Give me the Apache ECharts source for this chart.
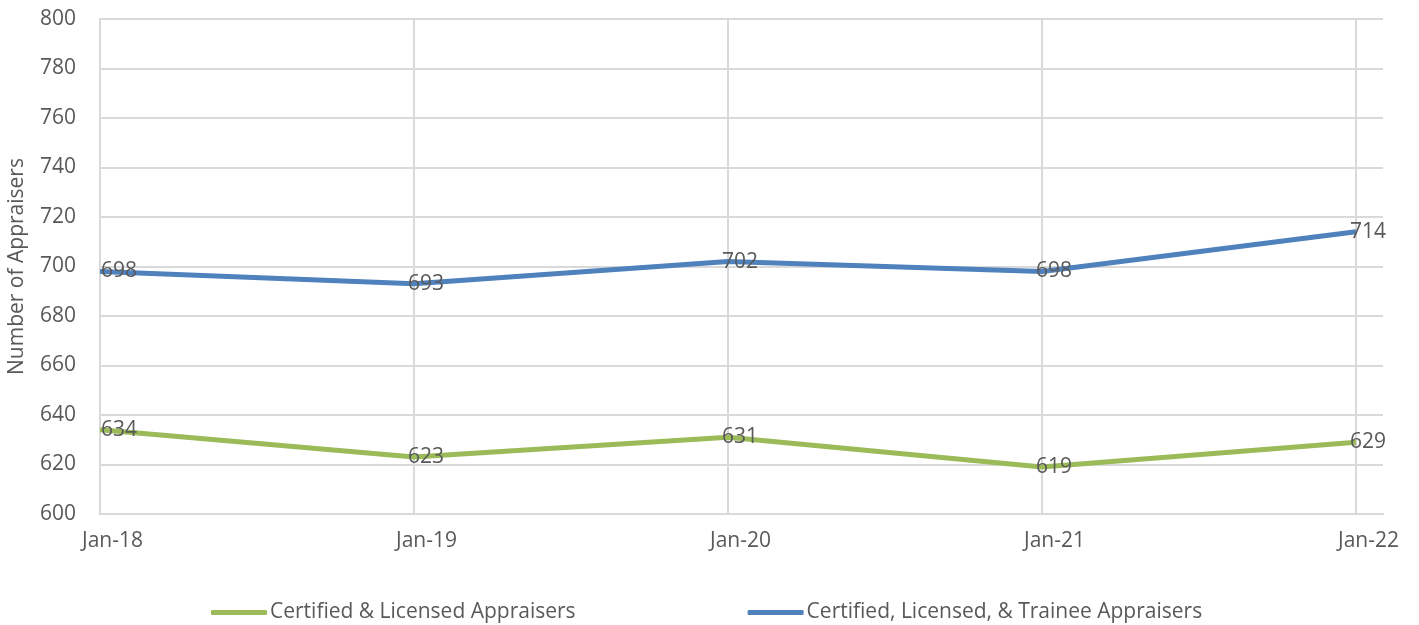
<!DOCTYPE html>
<html>
<head>
<meta charset="utf-8">
<script src="https://cdn.jsdelivr.net/npm/echarts@6/dist/echarts.min.js"></script>
<style>
  html, body { margin: 0; padding: 0; background: #fff; }
  #chart { width: 1419px; height: 625px; }
</style>
</head>
<body>
<div id="chart"></div>
<script>
// Appraiser counts by January of each year
const categories = ['Jan-18', 'Jan-19', 'Jan-20', 'Jan-21', 'Jan-22'];
const certifiedLicensed = [634, 623, 631, 619, 629];
const withTrainees = [698, 693, 702, 698, 714];
const seriesNames = ['Certified & Licensed Appraisers', 'Certified, Licensed, & Trainee Appraisers'];
const yTicks = { min: 600, max: 800, step: 20 };

const FONT = 'Open Sans';
const TEXT = '#595959';
const GRIDLINE = '#d9d9d9';
const FS = 21;

// points are placed on a numeric x scale (index of the category)
function toPoints(values) {
  return values.map((v, i) => ({
    value: [i, v],
    label: { offset: [i === 0 ? 19 : 12, 0] }
  }));
}

const lastX = categories.length - 1;
const xMax = lastX + 27 / 314;

function lineSeries(name, values, color) {
  return {
    name: name,
    type: 'line',
    data: toPoints(values),
    symbol: 'circle',
    symbolSize: 2,
    showSymbol: true,
    lineStyle: { color: color, width: 5 },
    itemStyle: { color: color, opacity: 0 },
    label: {
      show: true,
      position: 'inside',
      fontFamily: FONT,
      fontSize: FS,
      color: TEXT,
      opacity: 1,
      formatter: p => p.value[1]
    },
    emphasis: { disabled: true },
    z: 3
  };
}

const chart = echarts.init(document.getElementById('chart'), null, { renderer: 'canvas' });

chart.setOption({
  animation: false,
  textStyle: { fontFamily: FONT, color: TEXT },
  grid: { left: 100, right: 36, top: 19, bottom: 111, containLabel: false, outerBoundsMode: 'none' },
  legend: {
    top: 597,
    left: 206,
    itemGap: 172,
    itemWidth: 56,
    itemHeight: 5,
    icon: 'roundRect',
    textStyle: { fontFamily: FONT, fontSize: FS, color: TEXT, padding: [0, 0, 0, -2] },
    data: seriesNames.map((n, i) => ({ name: n, itemStyle: { color: i === 0 ? '#9bbb59' : '#4f81bd', opacity: 1 } }))
  },
  xAxis: {
    type: 'value',
    min: 0,
    max: xMax,
    interval: 1,
    axisLine: { show: true, lineStyle: { color: GRIDLINE, width: 2 } },
    axisTick: { show: false },
    splitLine: {
      show: true,
      lineStyle: { color: [GRIDLINE, GRIDLINE, GRIDLINE, GRIDLINE, GRIDLINE, 'rgba(0,0,0,0)'], width: 2 }
    },
    axisLabel: {
      fontFamily: FONT,
      fontSize: FS,
      color: TEXT,
      margin: 17,
      padding: [0, 0, 0, 25],
      showMaxLabel: true,
      formatter: v => (Number.isInteger(v) && categories[v] !== undefined) ? categories[v] : ''
    }
  },
  yAxis: {
    type: 'value',
    min: yTicks.min,
    max: yTicks.max,
    interval: yTicks.step,
    name: 'Number of Appraisers',
    nameLocation: 'middle',
    nameGap: 72,
    nameTextStyle: { fontFamily: FONT, fontSize: FS, color: TEXT },
    axisLine: { show: true, lineStyle: { color: GRIDLINE, width: 2 } },
    axisTick: { show: false },
    splitLine: { show: true, lineStyle: { color: GRIDLINE, width: 2 } },
    axisLabel: { fontFamily: FONT, fontSize: FS, color: TEXT, margin: 24 }
  },
  series: [
    lineSeries(seriesNames[0], certifiedLicensed, '#9bbb59'),
    lineSeries(seriesNames[1], withTrainees, '#4f81bd')
  ]
});
</script>
</body>
</html>
